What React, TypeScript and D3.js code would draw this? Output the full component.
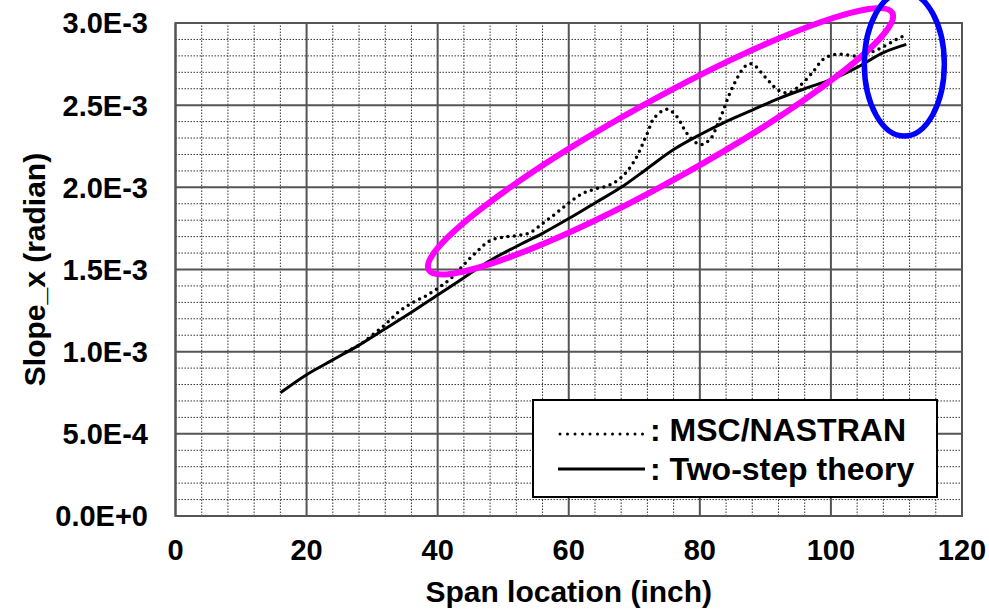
import React from 'react';
import * as d3 from 'd3';

// span location (inch) and slope (radian)
const theorySpan = [16, 20, 24, 28, 32, 36, 40, 44, 48, 52, 56, 60, 64, 68, 72, 76, 80, 84, 88, 92, 96, 100, 104, 108, 111.5];
const theorySlope = [
  0.00075, 0.00086, 0.00095, 0.00104, 0.00114, 0.00124, 0.001345, 0.00145, 0.001555, 0.00164, 0.00172, 0.00181,
  0.001905, 0.002, 0.002115, 0.00223, 0.00232, 0.0024, 0.00247, 0.00254, 0.0026, 0.002655, 0.00273, 0.00282, 0.00287,
];

const nastranSpan = [
  26, 28, 30, 32, 34, 36, 38, 40, 42, 44, 46, 48, 50, 52, 54, 56, 58, 60, 62, 64, 66, 68, 70, 72, 73, 75,
  76.5, 78, 80, 81.5, 83, 85, 87, 88, 90, 92, 93.5, 95, 97, 99, 101, 104, 106, 108, 110, 111,
];
const nastranSlope = [
  0.001, 0.00104, 0.0011, 0.001165, 0.00124, 0.001295, 0.001335, 0.001385, 0.001445, 0.00153, 0.00161, 0.001676,
  0.001696, 0.001706, 0.001722, 0.00178, 0.00184, 0.001905, 0.00196, 0.00199, 0.00201, 0.00206, 0.00216, 0.00233,
  0.00242, 0.002475, 0.00243, 0.00233, 0.00226, 0.00229, 0.00241, 0.00261, 0.00274, 0.00275, 0.00267, 0.00259,
  0.002575, 0.00261, 0.00269, 0.002785, 0.00281, 0.0028, 0.00282, 0.002855, 0.0029, 0.00292,
];

const xTicks = [0, 20, 40, 60, 80, 100, 120];
const yTicks = [0, 0.0005, 0.001, 0.0015, 0.002, 0.0025, 0.003];
const legendLabels = [': MSC/NASTRAN', ': Two-step theory'];

const W = 989;
const H = 609;
const FONT = '"Liberation Sans", Arial, sans-serif';

function fmtE(v: number) {
  if (v === 0) return '0.0E+0';
  const e = Math.floor(Math.log10(v) + 1e-9);
  const m = v / Math.pow(10, e);
  return `${m.toFixed(1)}E${e < 0 ? '-' : '+'}${Math.abs(e)}`;
}

export default function App() {
  const x = d3.scaleLinear().domain([0, 120]).range([175.5, 962]);
  const y = d3.scaleLinear().domain([0, 0.003]).range([516, 23]);

  const minorX = d3.range(0, 121, 4).filter((v) => v % 20 !== 0);
  const minorY = d3.range(0, 31).map((i) => i * 0.0001).filter((_, i) => i % 5 !== 0);

  const line = d3
    .line<[number, number]>()
    .x((d) => x(d[0]))
    .y((d) => y(d[1]))
    .curve(d3.curveCatmullRom.alpha(0.5));

  const theory = theorySpan.map((s, i) => [s, theorySlope[i]] as [number, number]);
  const nastran = nastranSpan.map((s, i) => [s, nastranSlope[i]] as [number, number]);

  const [x0, x1] = x.range();
  const [y0, y1] = y.range();

  // legend box
  const lg = { x: 533, y: 400, w: 404, h: 97 };

  return (
    <svg width={W} height={H} style={{ position: 'absolute', left: 0, top: 0, background: '#fff' }}>
      {/* minor grid */}
      {minorX.map((v) => (
        <line key={'mx' + v} x1={x(v)} x2={x(v)} y1={y0} y2={y1} stroke="#333" strokeWidth={1} strokeDasharray="1.5 1.5" />
      ))}
      {minorY.map((v, i) => (
        <line key={'my' + i} x1={x0} x2={x1} y1={y(v)} y2={y(v)} stroke="#333" strokeWidth={1} strokeDasharray="1.5 1.5" />
      ))}
      {/* major grid */}
      {xTicks.map((v) => (
        <line key={'Mx' + v} x1={x(v)} x2={x(v)} y1={y0} y2={y1} stroke="#555" strokeWidth={2} />
      ))}
      {yTicks.map((v) => (
        <line key={'My' + v} x1={x0} x2={x1} y1={y(v)} y2={y(v)} stroke="#555" strokeWidth={2} />
      ))}
      <rect x={x0} y={y1} width={x1 - x0} height={y0 - y1} fill="none" stroke="#555" strokeWidth={2} />

      {/* series */}
      <path d={line(nastran) || ''} fill="none" stroke="#000" strokeWidth={3.5} strokeDasharray="0 6.5" strokeLinecap="round" />
      <path d={line(theory) || ''} fill="none" stroke="#000" strokeWidth={3} />

      {/* tick labels */}
      {yTicks.map((v) => (
        <text key={'ty' + v} x={148} y={y(v)} dy="0.36em" textAnchor="end" fontFamily={FONT} fontWeight="bold" fontSize={29}>
          {fmtE(v)}
        </text>
      ))}
      {xTicks.map((v) => (
        <text key={'tx' + v} x={x(v)} y={560} textAnchor="middle" fontFamily={FONT} fontWeight="bold" fontSize={29}>
          {v}
        </text>
      ))}
      <text x={(x0 + x1) / 2} y={602} textAnchor="middle" fontFamily={FONT} fontWeight="bold" fontSize={30}>
        Span location (inch)
      </text>
      <text transform={`translate(45,${(y0 + y1) / 2}) rotate(-90)`} textAnchor="middle" fontFamily={FONT} fontWeight="bold" fontSize={30}>
        Slope_x (radian)
      </text>

      {/* legend */}
      <rect x={lg.x} y={lg.y} width={lg.w} height={lg.h} fill="#fff" stroke="#000" strokeWidth={2} />
      <line x1={560} x2={645} y1={434} y2={434} stroke="#000" strokeWidth={3} strokeDasharray="0 7.5" strokeLinecap="round" />
      <line x1={558} x2={645} y1={469} y2={469} stroke="#000" strokeWidth={3} />
      <text x={650} y={441} fontFamily={FONT} fontWeight="bold" fontSize={32}>
        {legendLabels[0]}
      </text>
      <text x={650} y={480} fontFamily={FONT} fontWeight="bold" fontSize={32}>
        {legendLabels[1]}
      </text>

      {/* annotations */}
      <ellipse
        cx={x(74)}
        cy={y(0.00228)}
        rx={265}
        ry={40}
        transform={`rotate(-29 ${x(74)} ${y(0.00228)})`}
        fill="none"
        stroke="#ff00ff"
        strokeWidth={6}
      />
      <ellipse cx={x(111.2)} cy={y(0.00275)} rx={40} ry={72} fill="none" stroke="#0000ff" strokeWidth={5.5} />
    </svg>
  );
}
